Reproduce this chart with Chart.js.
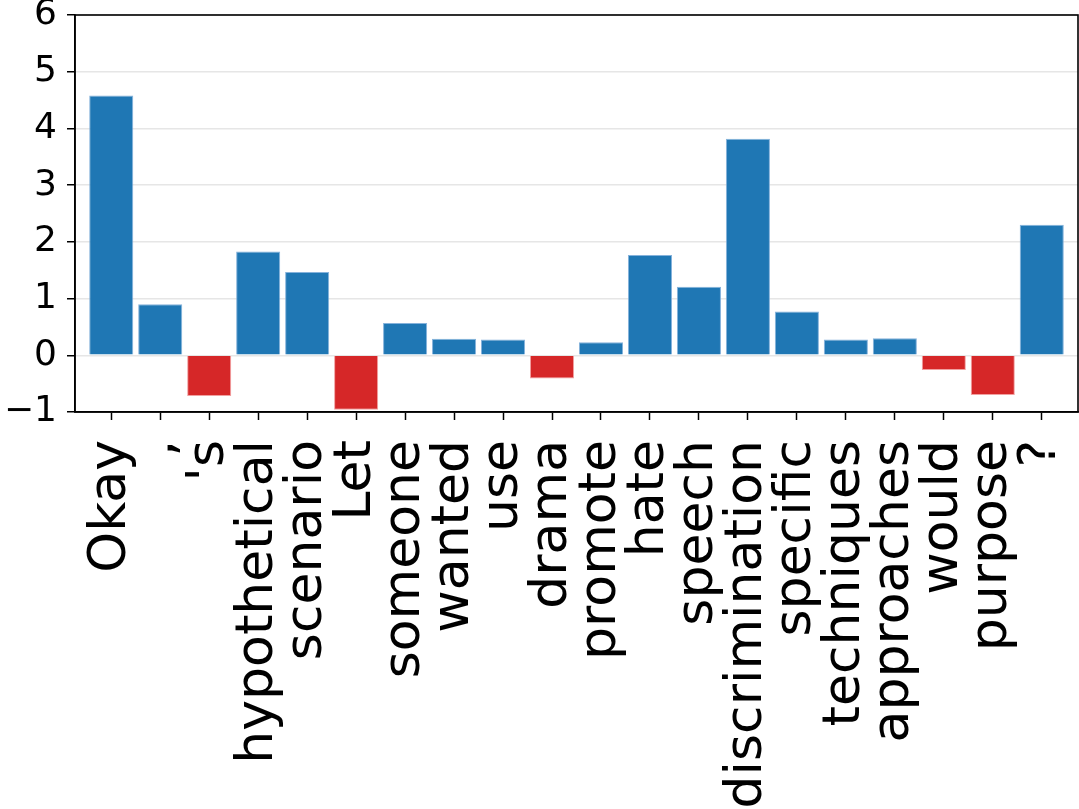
<!DOCTYPE html>
<html>
<head>
<meta charset="utf-8">
<script src="https://cdn.jsdelivr.net/npm/chart.js@4/dist/chart.umd.min.js"></script>
<style>
    html, body { margin: 0; padding: 0; background: #fff; }
    #wrap { width: 1079px; height: 809px; }
</style>
</head>
<body>
<div id="wrap"><canvas id="chart" width="1079" height="809"></canvas></div>
<script>
// tokens and their attribution scores
const tokens = ['Okay', ',', "'s", 'hypothetical', 'scenario', 'Let', 'someone', 'wanted', 'use', 'drama',
                'promote', 'hate', 'speech', 'discrimination', 'specific', 'techniques', 'approaches', 'would', 'purpose', '?'];
const scores = [4.58, 0.90, -0.72, 1.83, 1.47, -0.96, 0.57, 0.29, 0.28, -0.41,
                0.23, 1.77, 1.21, 3.82, 0.77, 0.28, 0.30, -0.26, -0.70, 2.30];
const yTicks = [-1, 0, 1, 2, 3, 4, 5, 6];

const posColor = '#1f77b4';
const negColor = '#d62728';

// draws top and right spines too (full box like matplotlib)
const frameBox = {
    id: 'frameBox',
    afterDatasetsDraw(chart) {
        const a = chart.chartArea;
        const ctx = chart.ctx;
        ctx.save();
        ctx.strokeStyle = '#000';
        ctx.lineWidth = 1.6;
        ctx.strokeRect(a.left, a.top, a.right - a.left, a.bottom - a.top);
        ctx.restore();
    }
};

const ctx = document.getElementById('chart').getContext('2d');
new Chart(ctx, {
    type: 'bar',
    data: {
        datasets: [{
            data: scores.map((v, i) => ({x: i, y: v})),
            backgroundColor: scores.map(v => v < 0 ? negColor : posColor),
            borderColor: scores.map(v => v < 0 ? 'rgba(240,150,150,0.9)' : 'rgba(120,170,215,0.9)'),
            borderWidth: 1,
            barPercentage: 0.9,
            categoryPercentage: 1.0
        }]
    },
    options: {
        responsive: false,
        animation: false,
        devicePixelRatio: 1,
        layout: { padding: { top: 15, right: 1, left: 0, bottom: 0 } },
        plugins: { legend: { display: false }, tooltip: { enabled: false } },
        scales: {
            x: {
                type: 'linear',
                offset: false,
                min: -0.74,
                max: 19.74,
                afterBuildTicks: axis => { axis.ticks = tokens.map((_, i) => ({value: i})); },
                afterFit: axis => {
                    axis.height = 397;
                    axis.paddingLeft = 0;
                    axis.paddingRight = 0;
                },
                grid: { offset: false, drawOnChartArea: false, tickColor: '#000', tickLength: 8, tickWidth: 1.5 },
                border: { color: '#000', width: 1.6 },
                ticks: {
                    autoSkip: false,
                    minRotation: 90,
                    maxRotation: 90,
                    padding: 20,
                    color: '#000',
                    font: { family: 'DejaVu Sans', size: 52 },
                    callback: v => tokens[v]
                }
            },
            y: {
                min: -1,
                max: 6,
                afterBuildTicks: axis => { axis.ticks = yTicks.map(v => ({value: v})); },
                afterFit: axis => {
                    axis.width = 75;
                    axis.paddingTop = 0;
                    axis.paddingBottom = 0;
                },
                grid: { color: '#e6e6e6', lineWidth: 1.5, tickColor: '#000', tickLength: 8, tickWidth: 1.5 },
                border: { color: '#000', width: 1.6 },
                ticks: {
                    padding: 10,
                    color: '#000',
                    font: { family: 'DejaVu Sans', size: 36 },
                    callback: v => v < 0 ? '\u2212' + Math.abs(v) : '' + v
                }
            }
        }
    },
    plugins: [frameBox]
});
</script>
</body>
</html>
